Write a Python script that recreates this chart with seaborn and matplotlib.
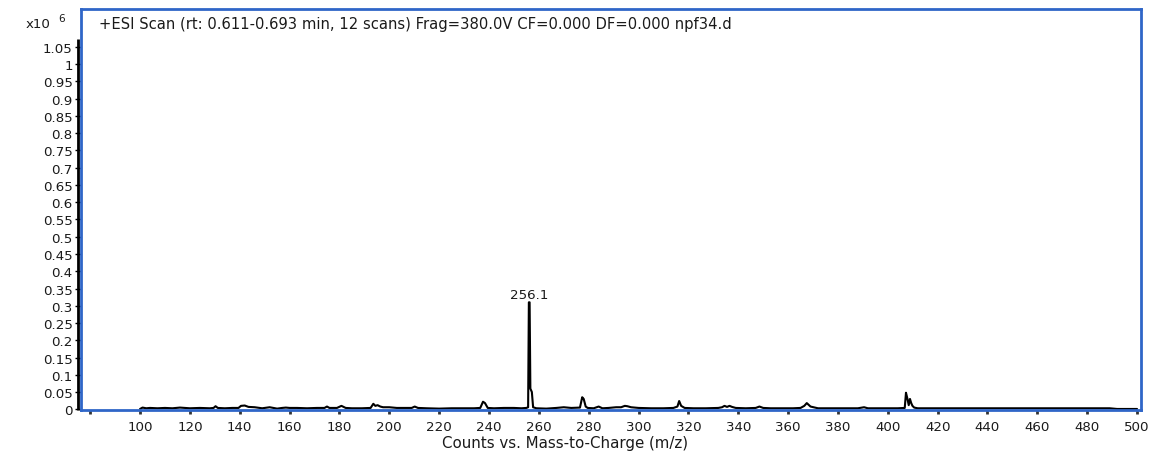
import numpy as np
import pandas as pd
import matplotlib
matplotlib.use('Agg')
import matplotlib.pyplot as plt
import seaborn as sns

# Spectrum profile (m/z, counts x10^6)
mz = [100, 101, 102.5, 104, 107, 110, 113, 116, 120, 124, 128, 129.5, 130.3, 131.2, 134,
      137, 139.5, 140.5, 142, 143.5, 146, 149, 152, 155, 157, 158.5, 160, 163, 167, 171,
      174, 175, 176, 179, 180.8, 182.5, 185, 189, 192.5, 193.6, 194.4, 195.3, 196.4, 197.5,
      200, 203, 206, 209, 210.2, 211.5, 215, 220, 225, 230, 234, 236.5, 237.6, 238.4, 239.5,
      242, 246, 250, 253, 255.0, 255.7, 256.0, 256.3, 256.6, 257.2, 257.7, 259, 263,
      267, 270, 273, 276.5, 277.4, 278.0, 278.8, 279.6, 282, 284, 285.5, 288, 291, 293,
      294.5, 295.5, 297, 300, 305, 310, 314, 315.6, 316.3, 317.1, 318.5, 322, 327, 332,
      333.5, 334.5, 335.5, 336.5, 337.5, 339, 343, 347, 348.5, 350, 353, 358, 362, 365,
      366.5, 367.5, 369, 372, 376, 380, 384, 388, 390.5, 392, 396, 400, 404, 406.8, 407.3,
      407.9, 408.4, 408.9, 409.4, 409.9, 410.6, 412, 416, 420, 430, 440, 450, 460, 470,
      480, 489, 492, 495, 500]
counts = [0.001, 0.005, 0.003, 0.004, 0.003, 0.004, 0.003, 0.005, 0.003, 0.004, 0.003, 0.004, 0.009, 0.004, 0.003,
          0.004, 0.004, 0.010, 0.011, 0.007, 0.006, 0.003, 0.006, 0.002, 0.004, 0.005, 0.004, 0.004, 0.003, 0.004,
          0.004, 0.008, 0.004, 0.004, 0.010, 0.004, 0.003, 0.003, 0.004, 0.016, 0.010, 0.012, 0.008, 0.006,
          0.006, 0.004, 0.004, 0.004, 0.008, 0.004, 0.003, 0.002, 0.003, 0.003, 0.003, 0.004, 0.022, 0.018, 0.004,
          0.003, 0.004, 0.004, 0.003, 0.004, 0.006, 0.31, 0.31, 0.06, 0.05, 0.006, 0.003, 0.002,
          0.004, 0.006, 0.004, 0.005, 0.035, 0.030, 0.008, 0.004, 0.003, 0.008, 0.003, 0.004, 0.006, 0.006,
          0.010, 0.009, 0.006, 0.004, 0.003, 0.003, 0.004, 0.008, 0.024, 0.010, 0.004, 0.003, 0.003, 0.004,
          0.006, 0.010, 0.007, 0.010, 0.007, 0.004, 0.003, 0.004, 0.008, 0.004, 0.003, 0.003, 0.003, 0.004,
          0.010, 0.018, 0.008, 0.003, 0.003, 0.003, 0.003, 0.003, 0.006, 0.003, 0.003, 0.003, 0.003, 0.004, 0.048,
          0.030, 0.012, 0.030, 0.018, 0.010, 0.005, 0.003, 0.003, 0.003, 0.003, 0.003, 0.003, 0.003, 0.003,
          0.003, 0.003, 0.001, 0.001, 0.001]

peak_mz = 256.1
peak_label = '256.1'
y_ticks = [0, 0.05, 0.1, 0.15, 0.2, 0.25, 0.3, 0.35, 0.4, 0.45, 0.5, 0.55, 0.6, 0.65,
           0.7, 0.75, 0.8, 0.85, 0.9, 0.95, 1, 1.05]
x_ticks = [80, 100, 120, 140, 160, 180, 200, 220, 240, 260, 280, 300, 320, 340, 360, 380,
           400, 420, 440, 460, 480, 500]
x_labels = ['' if t == 80 else str(t) for t in x_ticks]

df = pd.DataFrame({'mz': mz, 'counts': counts})

sns.set_style('white')
plt.rcParams['font.family'] = ['DejaVu Sans']
txt = '#1a1a1a'
blue = '#2f66c8'
fs = 9.6

fig = plt.figure(figsize=(11.55, 4.52), dpi=100)
ax = fig.add_axes([0.0701, 0.0907, 0.9178, 0.8873])

sns.lineplot(data=df, x='mz', y='counts', ax=ax, color='black', lw=1.5, estimator=None, sort=False)

ax.set_xlim(76.3, 501.6)
ax.set_ylim(-0.002, 1.16)
ax.set_yticks(y_ticks)
ax.set_yticklabels(['%g' % t for t in y_ticks])
ax.set_xticks(x_ticks)
ax.set_xticklabels(x_labels)
ax.tick_params(axis='y', direction='out', length=4, width=1, colors='black', labelcolor=txt,
               labelsize=fs, pad=2, left=True)
ax.tick_params(axis='x', direction='out', length=3, width=2, colors='#333333', labelcolor=txt,
               labelsize=fs, pad=4, bottom=True)
for s in ax.spines.values():
    s.set_color(blue)
    s.set_linewidth(2)

# black y axis line just outside the blue frame
ax.plot([-0.003, -0.003], [0, 0.925], transform=ax.transAxes, color='black', lw=2,
        clip_on=False, solid_capstyle='butt')

ax.set_xlabel('Counts vs. Mass-to-Charge (m/z)', fontsize=10.8, color=txt, labelpad=2)
ax.xaxis.set_label_coords(0.4566, -0.062)
ax.set_ylabel('')

ax.text(0.017, 0.963, '+ESI Scan (rt: 0.611-0.693 min, 12 scans) Frag=380.0V CF=0.000 DF=0.000 npf34.d',
        transform=ax.transAxes, fontsize=10.6, color=txt, va='center', ha='left')
peak_y = max(counts)
ax.text(peak_mz, peak_y + 0.004, peak_label, fontsize=fs, color=txt, ha='center', va='bottom')

fig.text(0.022, 0.945, 'x10', fontsize=fs, color=txt, ha='left', va='center')
fig.text(0.0505, 0.958, '6', fontsize=7.5, color=txt, ha='left', va='center')

fig.savefig('out.png', dpi=100)
